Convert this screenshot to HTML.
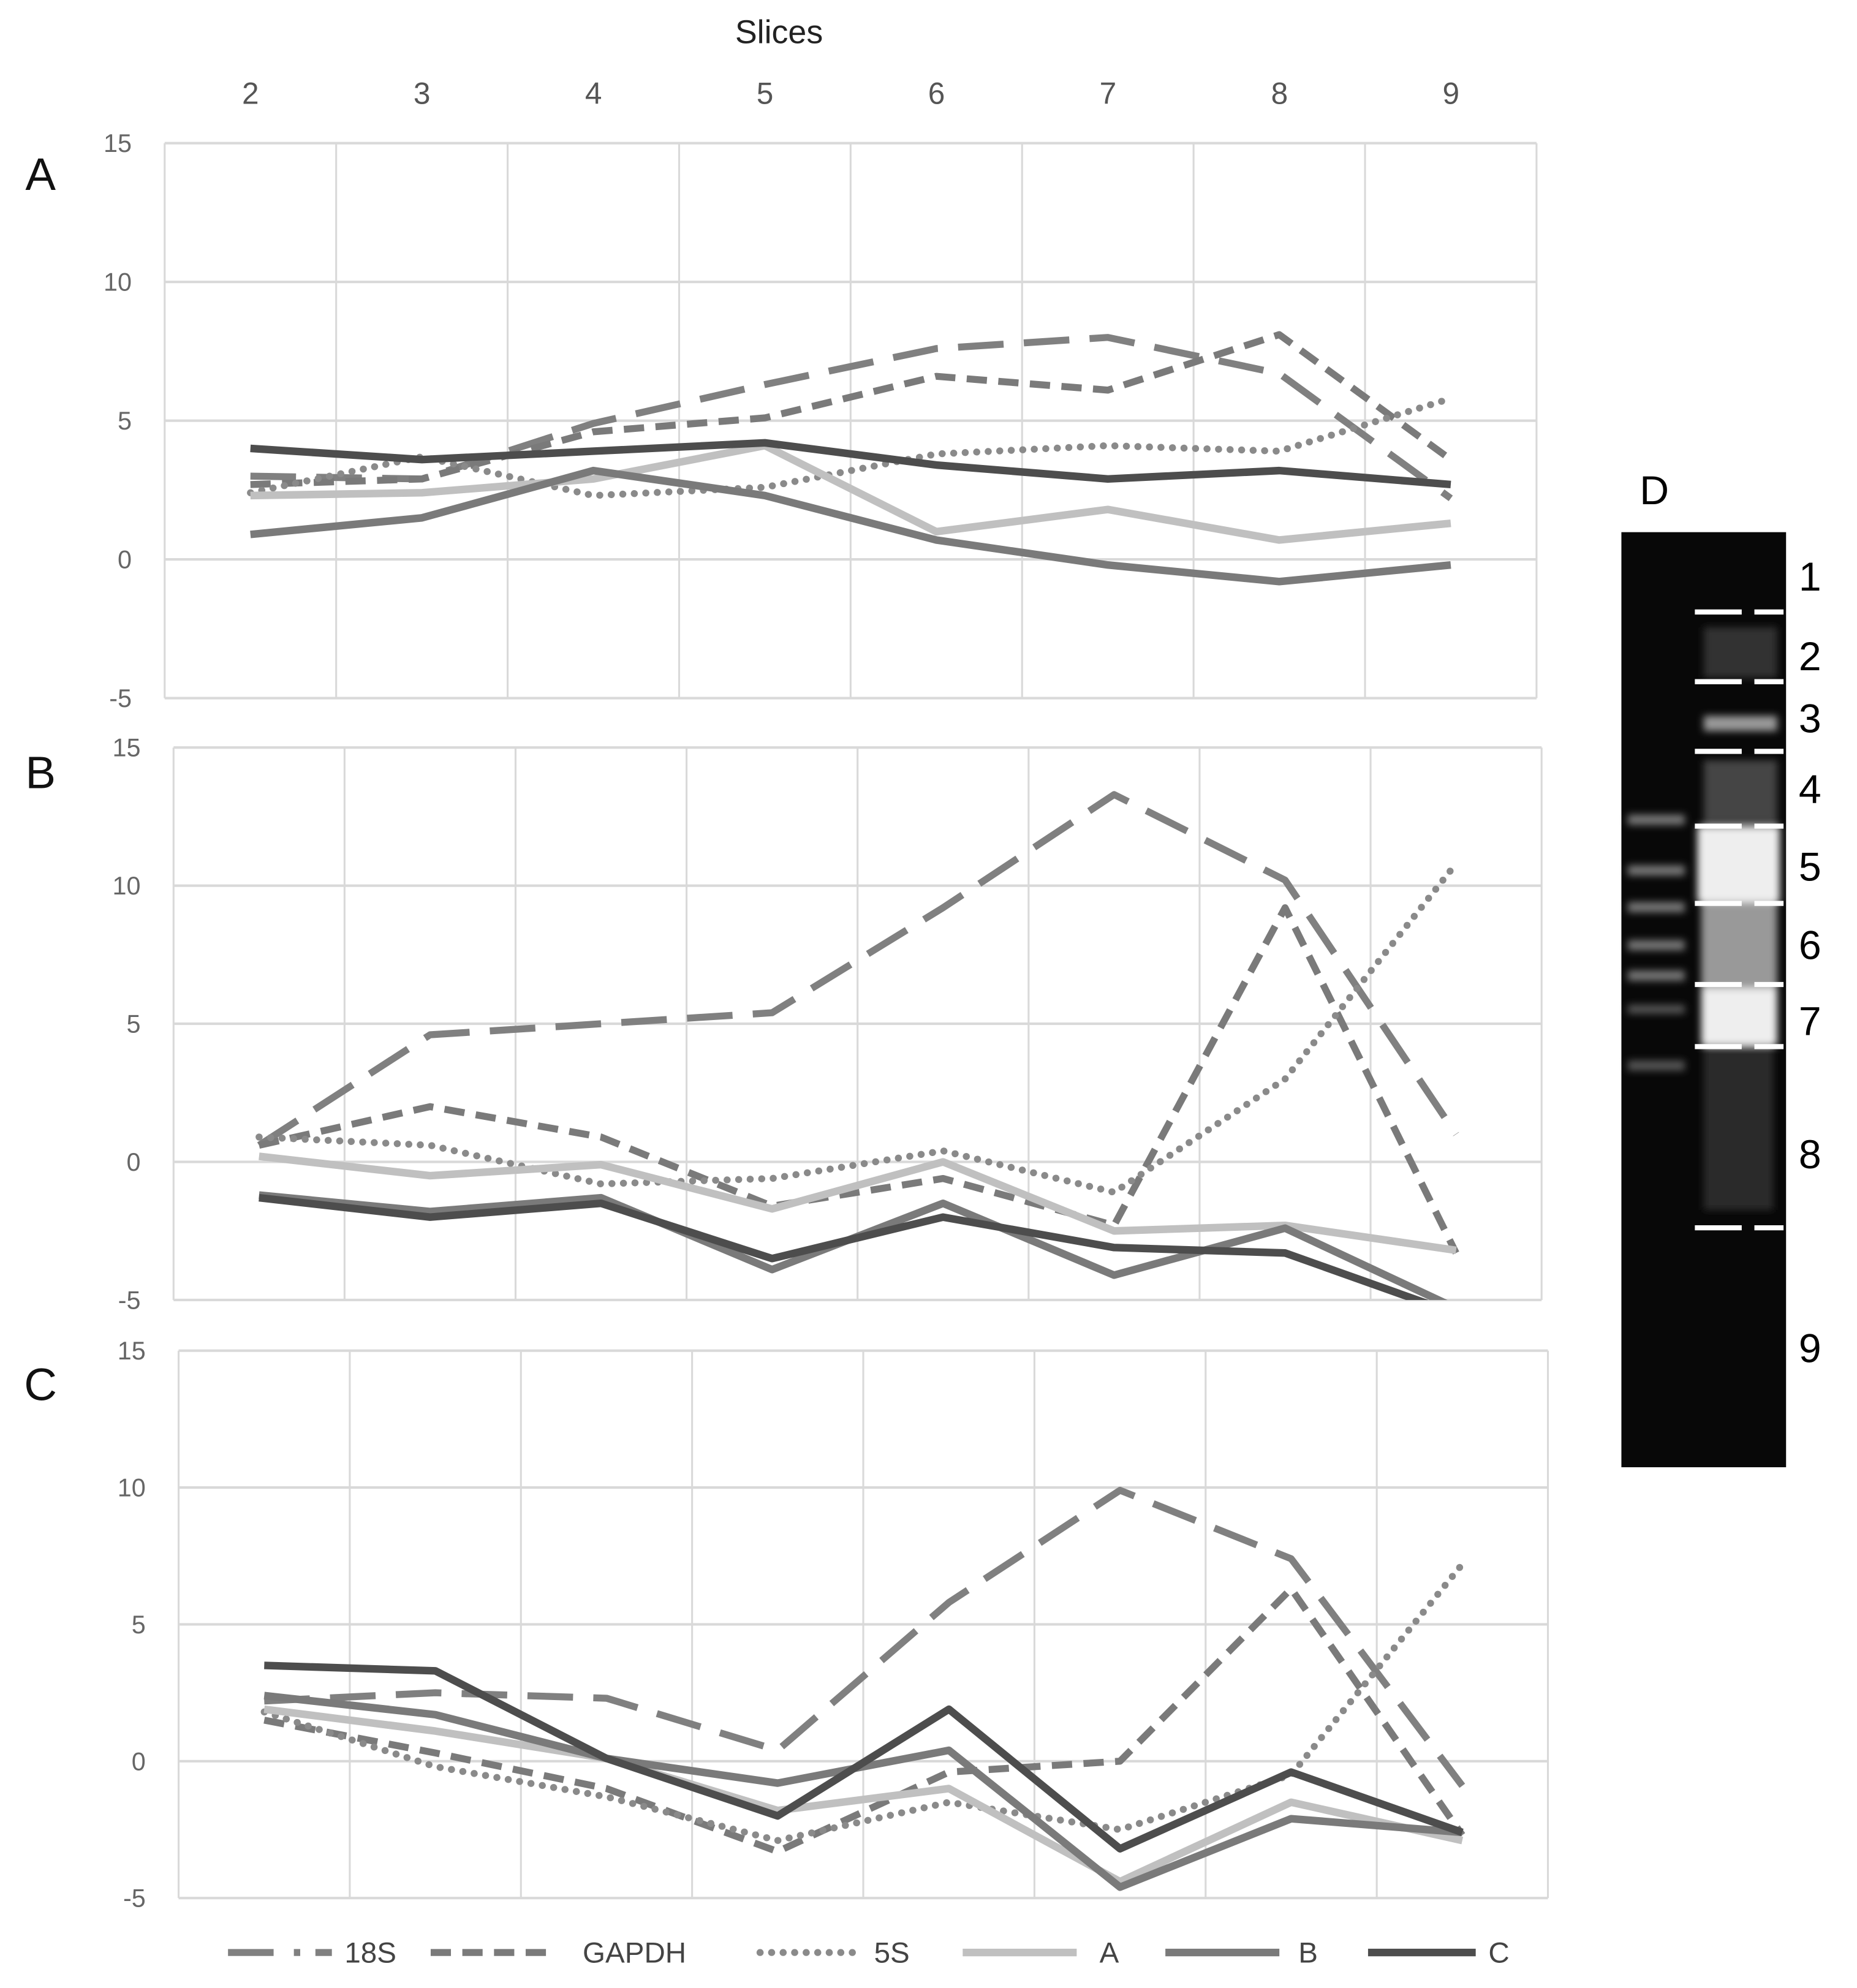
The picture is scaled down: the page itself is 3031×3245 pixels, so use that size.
<!DOCTYPE html>
<html><head><meta charset="utf-8"><style>
html,body{margin:0;padding:0;background:#fff;width:3031px;height:3245px;overflow:hidden}
svg{display:block;font-family:"Liberation Sans",sans-serif}
</style></head><body>
<svg id="fig" width="3031" height="3245" viewBox="0 0 1466 1569" preserveAspectRatio="none" xmlns="http://www.w3.org/2000/svg">
<defs><filter id="blur"><feGaussianBlur stdDeviation="3"/></filter></defs>
<text x="615" y="34" font-size="26" text-anchor="middle" fill="#222">Slices</text>
<g id="charts"></g>
<g id="legend"></g>
<g>
<text x="1306" y="398" font-size="32" text-anchor="middle" fill="#000">D</text>
<rect x="1280" y="420" width="130" height="738" fill="#080808"/>
<g filter="url(#blur)" fill="#777">
<rect x="1285" y="643" width="45" height="8"/><rect x="1285" y="683" width="45" height="8"/><rect x="1285" y="712" width="45" height="8"/><rect x="1285" y="742" width="45" height="8"/><rect x="1285" y="766" width="45" height="8"/><rect x="1285" y="793" width="45" height="7" fill="#555"/><rect x="1285" y="837" width="45" height="8" fill="#555"/>
<rect x="1345" y="495" width="58" height="40" fill="#333"/><rect x="1345" y="565" width="58" height="12" fill="#999"/>
<rect x="1345" y="600" width="58" height="50" fill="#444"/>
<rect x="1340" y="652" width="65" height="60" fill="#eee"/>
<rect x="1343" y="712" width="60" height="70" fill="#999"/>
<rect x="1343" y="780" width="60" height="45" fill="#eee"/>
<rect x="1345" y="825" width="55" height="130" fill="#2a2a2a"/>
</g>
<g id="geldash" stroke="#fff" stroke-width="4"></g>
<g id="gelnums" font-size="32" fill="#000"></g>
</g>
</svg>
<script>
const categories=[2,3,4,5,6,7,8,9];
const yTicks=[15,10,5,0,-5];
const seriesNames=["18S","GAPDH","5S","A","B","C"];
const a18S=[3,2.9,4.9,6.3,7.6,8,6.7,2.2];
const aGAPDH=[2.7,2.9,4.6,5.1,6.6,6.1,8.1,3.6];
const a5S=[2.4,3.7,2.3,2.6,3.8,4.1,3.9,5.8];
const aA=[2.3,2.4,2.9,4.1,1.0,1.8,0.7,1.3];
const aB=[0.9,1.5,3.2,2.3,0.7,-0.2,-0.8,-0.2];
const aC=[4.0,3.6,3.9,4.2,3.4,2.9,3.2,2.7];
const b18S=[0.6,4.6,5.0,5.4,9.2,13.3,10.2,1.0];
const bGAPDH=[0.6,2.0,0.9,-1.6,-0.6,-2.3,9.2,-3.3];
const b5S=[0.9,0.6,-0.8,-0.6,0.4,-1.1,3.0,10.8];
const bA=[0.2,-0.5,-0.1,-1.7,0.0,-2.5,-2.3,-3.2];
const bB=[-1.2,-1.8,-1.3,-3.9,-1.5,-4.1,-2.4,-5.3];
const bC=[-1.3,-2.0,-1.5,-3.5,-2.0,-3.1,-3.3,-5.5];
const c18S=[2.2,2.5,2.3,0.4,5.8,9.9,7.4,-0.9];
const cGAPDH=[1.5,0.3,-1.0,-3.3,-0.4,0.0,6.3,-2.7];
const c5S=[1.8,-0.2,-1.3,-2.9,-1.5,-2.5,-0.5,7.2];
const cA=[1.9,1.1,0.1,-1.8,-1.0,-4.4,-1.5,-2.9];
const cB=[2.4,1.7,0.1,-0.8,0.4,-4.6,-2.1,-2.6];
const cC=[3.5,3.3,0.1,-2.0,1.9,-3.2,-0.4,-2.6];
const gelLabels=["1","2","3","4","5","6","7","8","9"];

const NS="http://www.w3.org/2000/svg";
function mk(t,at,p){const e=document.createElementNS(NS,t);for(const k in at)e.setAttribute(k,at[k]);p.appendChild(e);return e;}
const styles={"18S":{c:"#808080",d:"36 16",w:5.5},"GAPDH":{c:"#7a7a7a",d:"16 9",w:5.5},"5S":{c:"#8a8a8a",d:"0.1 9",w:5.5,round:true},"A":{c:"#c0c0c0",d:"",w:6},"B":{c:"#7a7a7a",d:"",w:6},"C":{c:"#4d4d4d",d:"",w:6}};
const panels=[
 {id:"a",L:130,R:1213,T:113,B:551,data:[a18S,aGAPDH,a5S,aA,aB,aC],ly:150},
 {id:"b",L:137,R:1217,T:590,B:1026,data:[b18S,bGAPDH,b5S,bA,bB,bC],ly:622},
 {id:"c",L:141,R:1222,T:1066,B:1498,data:[c18S,cGAPDH,c5S,cA,cB,cC],ly:1105}];
const root=document.getElementById("charts");
panels.forEach(p=>{
 const g=mk("g",{},root);
 
 
 const n=categories.length,bw=(p.R-p.L)/n;
 const x=i=>p.L+bw*(i+0.5);
 const y=v=>p.T+(15-v)/20*(p.B-p.T);
 const lt=mk("text",{x:32,y:p.ly,"font-size":36,"text-anchor":"middle",fill:"#111"},g);lt.textContent=p.id.toUpperCase();
 
 
 for(let i=0;i<=n;i++)mk("line",{x1:p.L+bw*i,x2:p.L+bw*i,y1:p.T,y2:p.B,stroke:"#d9d9d9","stroke-width":1.5},g);
 yTicks.forEach(t=>{mk("line",{x1:p.L,x2:p.R,y1:y(t),y2:y(t),stroke:"#d9d9d9","stroke-width":2},g);
  const tx=mk("text",{x:p.L-26,y:y(t)+7,"font-size":20,"text-anchor":"end",fill:"#666"},g);tx.textContent=t;
  
  });
 const cp=mk("clipPath",{id:"clip"+p.id},g);mk("rect",{x:p.L-20,y:p.T-20,width:p.R-p.L+40,height:p.B-p.T+20},cp);
 p.data.forEach((arr,si)=>{const s=styles[seriesNames[si]];
  const pts=arr.map((v,i)=>x(i).toFixed(1)+","+y(v).toFixed(1)).join(" ");
  const pl=mk("polyline",{points:pts,fill:"none",stroke:s.c,"stroke-width":s.w,"stroke-dasharray":s.d,"stroke-linecap":s.round?"round":"butt","stroke-linejoin":"round","clip-path":"url(#clip"+p.id+")"},g);
  
  });
});
const catG=mk("g",{},root);
categories.forEach((c,i)=>{const t=mk("text",{x:130+135.4*(i+0.5),y:82,"font-size":24,"text-anchor":"middle",fill:"#555"},catG);t.textContent=c;
 
 });
const leg=document.getElementById("legend");
const legPos=[[180,262,272],[340,440,460],[600,680,690],[760,850,868],[920,1010,1025],[1080,1165,1175]];
const legDash=["36 16 5 12","16 9","0.1 9","","",""];
seriesNames.forEach((nm,i)=>{const s=styles[nm],q=legPos[i];
 const e=mk("g",{},leg);
 
 
 mk("line",{x1:q[0],x2:q[1],y1:1541,y2:1541,stroke:s.c,"stroke-width":s.w,"stroke-dasharray":legDash[i],"stroke-linecap":s.round?"round":"butt"},e);
 const t=mk("text",{x:q[2],y:1549,"font-size":23,fill:"#444"},e);t.textContent=nm;});
const gd=document.getElementById("geldash");
[483,538,593,652,713,777,826,969].forEach(yy=>{mk("line",{x1:1338,x2:1375,y1:yy,y2:yy},gd);mk("line",{x1:1385,x2:1408,y1:yy,y2:yy},gd);});
const gn=document.getElementById("gelnums");
const gy=[466,529,578,634,695,757,817,922,1075];
gelLabels.forEach((l,i)=>{const t=mk("text",{x:1420,y:gy[i]},gn);t.textContent=l;
 
 });
</script>
</body></html>
